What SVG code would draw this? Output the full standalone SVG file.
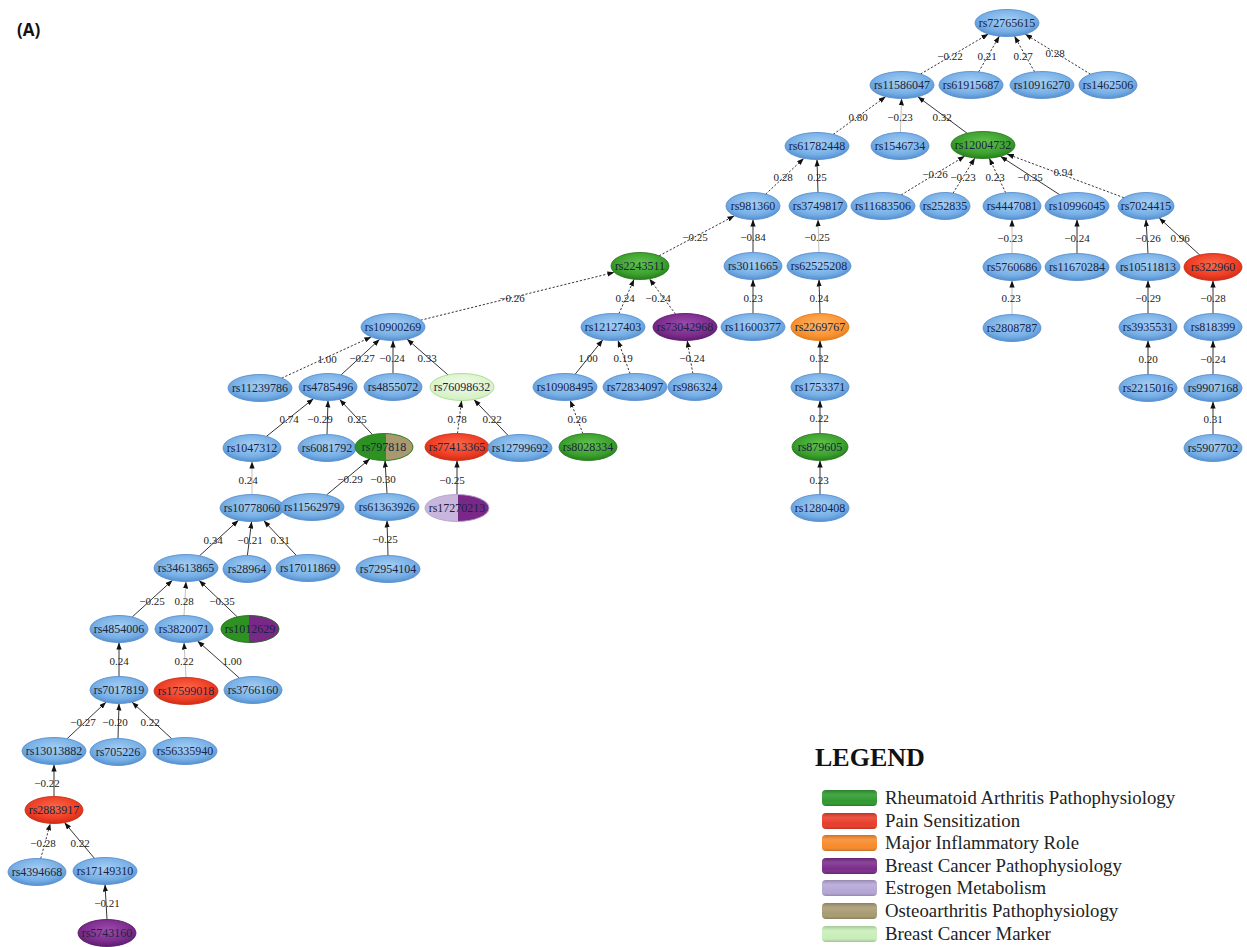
<svg xmlns="http://www.w3.org/2000/svg" width="1247" height="947" viewBox="0 0 1247 947">
<style>
.bg{fill:#fff}
.e{fill:none;stroke:#1e1e1e;stroke-width:0.9;marker-end:url(#ah)}
.d{stroke-dasharray:2.2 1.8}
.l{stroke:#b8b8b8}
.lb{font-family:"Liberation Serif",serif;font-size:11px;fill:#222;text-anchor:middle}
.n ellipse{stroke-width:0.9}
.n text{font-family:"Liberation Serif",serif;font-size:12px;fill:#1a2440;text-anchor:middle}
.bl{fill:url(#gb);stroke:#5a8fcf}
.gr{fill:url(#gg);stroke:#2a7a1e}
.rd{fill:url(#gr);stroke:#c83018}
.or{fill:url(#go);stroke:#e07a18}
.pu{fill:url(#gp);stroke:#5c1a6c}
.lg{fill:url(#glg);stroke:#a8d890}
.ol{fill:none}
.leg{font-family:"Liberation Serif",serif;font-size:18.8px;fill:#222}
</style>
<defs>
<marker id="ah" viewBox="0 0 8 6" refX="8" refY="3" markerWidth="7" markerHeight="5.5" markerUnits="userSpaceOnUse" orient="auto"><path d="M0,0 L8,3 L0,6 z" fill="#111"/></marker>
<radialGradient id="gb" cx="50%" cy="40%" r="60%"><stop offset="0" stop-color="#a6cff4"/><stop offset="0.7" stop-color="#76afe6"/><stop offset="1" stop-color="#5590d0"/></radialGradient>
<radialGradient id="gg" cx="50%" cy="40%" r="60%"><stop offset="0" stop-color="#62c24c"/><stop offset="0.7" stop-color="#3ca02e"/><stop offset="1" stop-color="#25801a"/></radialGradient>
<radialGradient id="gr" cx="50%" cy="40%" r="60%"><stop offset="0" stop-color="#fa6a4c"/><stop offset="0.7" stop-color="#ee3d24"/><stop offset="1" stop-color="#d02c16"/></radialGradient>
<radialGradient id="go" cx="50%" cy="40%" r="60%"><stop offset="0" stop-color="#ffb468"/><stop offset="0.7" stop-color="#fa9434"/><stop offset="1" stop-color="#e67e1c"/></radialGradient>
<radialGradient id="gp" cx="50%" cy="40%" r="60%"><stop offset="0" stop-color="#9c4cac"/><stop offset="0.7" stop-color="#7c2c8c"/><stop offset="1" stop-color="#601c70"/></radialGradient>
<radialGradient id="glg" cx="50%" cy="40%" r="60%"><stop offset="0" stop-color="#f2fcea"/><stop offset="1" stop-color="#d2f0c0"/></radialGradient>
<linearGradient id="sw" x1="0" y1="0" x2="0" y2="1"><stop offset="0" stop-color="#000" stop-opacity="0.18"/><stop offset="0.3" stop-color="#fff" stop-opacity="0.12"/><stop offset="0.7" stop-color="#fff" stop-opacity="0"/><stop offset="1" stop-color="#000" stop-opacity="0.2"/></linearGradient>
<clipPath id="c1"><rect x="386" y="430" width="40" height="40"/></clipPath>
<clipPath id="c2"><rect x="458" y="490" width="40" height="40"/></clipPath>
<clipPath id="c3"><rect x="249" y="610" width="40" height="40"/></clipPath>
</defs>
<rect class="bg" x="0" y="0" width="1247" height="947"/>
<text x="17" y="36" font-family="'Open Sans',sans-serif" font-weight="bold" font-size="17" fill="#111">(A)</text>

<g id="connectors">
<path class="e d" d="M920.6,74 L988.4,34"/>
<path class="e d" d="M978.6,71.9 L999.4,36.1"/>
<path class="e d" d="M1034.6,71.9 L1014.4,36.1"/>
<path class="e d" d="M1090.5,74.2 L1025.1,34.1"/>
<path class="e d" d="M833.2,134.4 L885.8,96.6"/>
<path class="e l" d="M900.4,132.5 L901.6,98.5"/>
<path class="e" d="M967.2,133.3 L917.8,96.7"/>
<path class="e d" d="M901.2,194.9 L964.8,156.1"/>
<path class="e d" d="M953,193.2 L974.9,158.1"/>
<path class="e d" d="M1005.7,192.8 L989.3,158.2"/>
<path class="e" d="M1059.6,194.7 L1000.4,156.3"/>
<path class="e d" d="M1123.9,197.7 L1006.9,154"/>
<path class="e d" d="M765.7,194.1 L803.9,158.3"/>
<path class="e" d="M818,192.5 L817,159.5"/>
<path class="e d" d="M659.1,255.8 L734.5,215.8"/>
<path class="e" d="M753,252.5 L753,219.5"/>
<path class="e l" d="M819,252.5 L818,219.5"/>
<path class="e l" d="M1012,253.5 L1012,219.5"/>
<path class="e" d="M1077,253.5 L1077,219.5"/>
<path class="e" d="M1148,253.5 L1146,219.5"/>
<path class="e" d="M1199.9,255.1 L1159.1,217.9"/>
<path class="e l" d="M1012,314.5 L1012,280.5"/>
<path class="e" d="M1148,313.5 L1148,280.5"/>
<path class="e" d="M1213,313.5 L1213,280.5"/>
<path class="e" d="M1148,374.5 L1148,340.5"/>
<path class="e" d="M1213,374.5 L1213,340.5"/>
<path class="e" d="M1213,434.5 L1213,401.5"/>
<path class="e d" d="M420.6,320.2 L614.4,272.3"/>
<path class="e d" d="M618.9,313.7 L634.1,279.2"/>
<path class="e d" d="M675.5,314.1 L649.4,278.8"/>
<path class="e" d="M753,313.5 L753,279.5"/>
<path class="e" d="M820,313.5 L819,279.5"/>
<path class="e d" d="M281.7,378.1 L371.3,336.9"/>
<path class="e" d="M341.1,374.9 L379.7,339.3"/>
<path class="e" d="M393,373.5 L393,340.5"/>
<path class="e" d="M448,374.9 L407,339.1"/>
<path class="e" d="M575.2,374.2 L602.8,339.8"/>
<path class="e d" d="M630.1,373.7 L617.9,340.3"/>
<path class="e d" d="M692.8,373.5 L687.2,340.5"/>
<path class="e" d="M820,373.5 L820,340.5"/>
<path class="e" d="M266.5,436.3 L313.5,398.7"/>
<path class="e" d="M327,434.5 L328,400.5"/>
<path class="e" d="M372.4,434.6 L339.6,399.4"/>
<path class="e d" d="M457.5,433.5 L461.5,400.5"/>
<path class="e" d="M508.1,435.5 L473.9,399.5"/>
<path class="e d" d="M582.9,433.7 L570.1,400.3"/>
<path class="e" d="M820,433.5 L820,400.5"/>
<path class="e l" d="M252,494.5 L252,461.5"/>
<path class="e" d="M326.5,495 L369.9,458.8"/>
<path class="e" d="M387,493.5 L385,460.5"/>
<path class="e" d="M457,494.5 L457,460.5"/>
<path class="e" d="M820,494.5 L820,460.5"/>
<path class="e" d="M199.5,555.8 L238.5,520.2"/>
<path class="e" d="M247.4,555.5 L251.6,521.5"/>
<path class="e" d="M296.3,555.4 L263.7,520.6"/>
<path class="e" d="M388,555.5 L387,520.5"/>
<path class="e" d="M132.2,617 L172.5,580.2"/>
<path class="e l" d="M184,615.5 L186,581.5"/>
<path class="e" d="M237.3,616.9 L199,580.3"/>
<path class="e" d="M119,676.5 L119,642.5"/>
<path class="e l" d="M186,677.5 L184,642.5"/>
<path class="e" d="M239.5,678.1 L197.5,640.9"/>
<path class="e" d="M67.1,738.7 L106.1,702.1"/>
<path class="e" d="M118,738.5 L119,703.5"/>
<path class="e" d="M171.7,738.7 L132,702.1"/>
<path class="e" d="M54,796.5 L54,764.5"/>
<path class="e d" d="M40.7,858.6 L50.3,823.4"/>
<path class="e" d="M94.4,858.3 L64.5,822.6"/>
<path class="e" d="M107,919.5 L105,884.5"/>
<g id="edge-labels">
<text class="lb" x="950" y="59.5">−0.22</text>
<text class="lb" x="987" y="59.5">0.21</text>
<text class="lb" x="1023" y="59.5">0.27</text>
<text class="lb" x="1055" y="56.5">0.28</text>
<text class="lb" x="858" y="120.5">0.80</text>
<text class="lb" x="900" y="120.5">−0.23</text>
<text class="lb" x="942" y="120.5">0.32</text>
<text class="lb" x="935" y="177.5">−0.26</text>
<text class="lb" x="963" y="180.5">−0.23</text>
<text class="lb" x="995" y="180.5">0.23</text>
<text class="lb" x="1030" y="180.5">−0.35</text>
<text class="lb" x="1063" y="175.5">0.94</text>
<text class="lb" x="783" y="180.5">0.28</text>
<text class="lb" x="817" y="180.5">0.25</text>
<text class="lb" x="695" y="240.5">−0.25</text>
<text class="lb" x="753" y="240.5">−0.84</text>
<text class="lb" x="817" y="240.5">−0.25</text>
<text class="lb" x="1010" y="241.5">−0.23</text>
<text class="lb" x="1077" y="241.5">−0.24</text>
<text class="lb" x="1148" y="241.5">−0.26</text>
<text class="lb" x="1180" y="241.5">0.96</text>
<text class="lb" x="1011" y="301.5">0.23</text>
<text class="lb" x="1148" y="301.5">−0.29</text>
<text class="lb" x="1213" y="301.5">−0.28</text>
<text class="lb" x="1148" y="362.5">0.20</text>
<text class="lb" x="1213" y="362.5">−0.24</text>
<text class="lb" x="1213" y="422.5">0.31</text>
<text class="lb" x="512" y="301.5">−0.26</text>
<text class="lb" x="625" y="301.5">0.24</text>
<text class="lb" x="658" y="301.5">−0.24</text>
<text class="lb" x="753" y="301.5">0.23</text>
<text class="lb" x="819" y="301.5">0.24</text>
<text class="lb" x="327" y="362.5">1.00</text>
<text class="lb" x="362" y="361.5">−0.27</text>
<text class="lb" x="392" y="361.5">−0.24</text>
<text class="lb" x="427" y="361.5">0.33</text>
<text class="lb" x="588" y="361.5">1.00</text>
<text class="lb" x="623" y="361.5">0.19</text>
<text class="lb" x="692" y="361.5">−0.24</text>
<text class="lb" x="819" y="361.5">0.32</text>
<text class="lb" x="289" y="422.5">0.74</text>
<text class="lb" x="320" y="422.5">−0.29</text>
<text class="lb" x="357" y="422.5">0.25</text>
<text class="lb" x="457" y="422.5">0.78</text>
<text class="lb" x="492" y="422.5">0.22</text>
<text class="lb" x="577" y="422.5">0.26</text>
<text class="lb" x="819" y="421.5">0.22</text>
<text class="lb" x="248" y="483.5">0.24</text>
<text class="lb" x="350" y="482.5">−0.29</text>
<text class="lb" x="383" y="482.5">−0.30</text>
<text class="lb" x="452" y="483.5">−0.25</text>
<text class="lb" x="819" y="483.5">0.23</text>
<text class="lb" x="213" y="543.5">0.34</text>
<text class="lb" x="250" y="543.5">−0.21</text>
<text class="lb" x="280" y="543.5">0.31</text>
<text class="lb" x="385" y="542.5">−0.25</text>
<text class="lb" x="152" y="604.5">−0.25</text>
<text class="lb" x="184" y="604.5">0.28</text>
<text class="lb" x="222" y="604.5">−0.35</text>
<text class="lb" x="119" y="664.5">0.24</text>
<text class="lb" x="184" y="664.5">0.22</text>
<text class="lb" x="232" y="664.5">1.00</text>
<text class="lb" x="83" y="725.5">−0.27</text>
<text class="lb" x="115" y="725.5">−0.20</text>
<text class="lb" x="150" y="725.5">0.22</text>
<text class="lb" x="47" y="786.5">−0.22</text>
<text class="lb" x="43" y="846.5">−0.28</text>
<text class="lb" x="80" y="846.5">0.22</text>
<text class="lb" x="107" y="906.5">−0.21</text>
</g>
</g>

<g id="rs72765615" class="n"><ellipse class="bl" cx="1007" cy="23" rx="32" ry="13.5"/><text x="1007" y="27">rs72765615</text></g>
<g id="rs11586047" class="n"><ellipse class="bl" cx="902" cy="85" rx="32" ry="13.5"/><text x="902" y="89">rs11586047</text></g>
<g id="rs61915687" class="n"><ellipse class="bl" cx="971" cy="85" rx="32" ry="13.5"/><text x="971" y="89">rs61915687</text></g>
<g id="rs10916270" class="n"><ellipse class="bl" cx="1042" cy="85" rx="32" ry="13.5"/><text x="1042" y="89">rs10916270</text></g>
<g id="rs1462506" class="n"><ellipse class="bl" cx="1108" cy="85" rx="29" ry="13.5"/><text x="1108" y="89">rs1462506</text></g>
<g id="rs61782448" class="n"><ellipse class="bl" cx="817" cy="146" rx="32" ry="13.5"/><text x="817" y="150">rs61782448</text></g>
<g id="rs1546734" class="n"><ellipse class="bl" cx="900" cy="146" rx="29" ry="13.5"/><text x="900" y="150">rs1546734</text></g>
<g id="rs12004732" class="n"><ellipse class="gr" cx="983" cy="145" rx="32" ry="13.5"/><text x="983" y="149">rs12004732</text></g>
<g id="rs981360" class="n"><ellipse class="bl" cx="753" cy="206" rx="27" ry="13.5"/><text x="753" y="210">rs981360</text></g>
<g id="rs3749817" class="n"><ellipse class="bl" cx="818" cy="206" rx="29" ry="13.5"/><text x="818" y="210">rs3749817</text></g>
<g id="rs11683506" class="n"><ellipse class="bl" cx="883" cy="206" rx="32" ry="13.5"/><text x="883" y="210">rs11683506</text></g>
<g id="rs252835" class="n"><ellipse class="bl" cx="945" cy="206" rx="25" ry="13.5"/><text x="945" y="210">rs252835</text></g>
<g id="rs4447081" class="n"><ellipse class="bl" cx="1012" cy="206" rx="29" ry="13.5"/><text x="1012" y="210">rs4447081</text></g>
<g id="rs10996045" class="n"><ellipse class="bl" cx="1077" cy="206" rx="32" ry="13.5"/><text x="1077" y="210">rs10996045</text></g>
<g id="rs7024415" class="n"><ellipse class="bl" cx="1146" cy="206" rx="28" ry="13.5"/><text x="1146" y="210">rs7024415</text></g>
<g id="rs2243511" class="n"><ellipse class="gr" cx="640" cy="266" rx="29" ry="13.5"/><text x="640" y="270">rs2243511</text></g>
<g id="rs3011665" class="n"><ellipse class="bl" cx="753" cy="266" rx="29" ry="13.5"/><text x="753" y="270">rs3011665</text></g>
<g id="rs62525208" class="n"><ellipse class="bl" cx="819" cy="266" rx="32" ry="13.5"/><text x="819" y="270">rs62525208</text></g>
<g id="rs5760686" class="n"><ellipse class="bl" cx="1012" cy="267" rx="29" ry="13.5"/><text x="1012" y="271">rs5760686</text></g>
<g id="rs11670284" class="n"><ellipse class="bl" cx="1077" cy="267" rx="32" ry="13.5"/><text x="1077" y="271">rs11670284</text></g>
<g id="rs10511813" class="n"><ellipse class="bl" cx="1148" cy="267" rx="32" ry="13.5"/><text x="1148" y="271">rs10511813</text></g>
<g id="rs322960" class="n"><ellipse class="rd" cx="1213" cy="267" rx="29" ry="13.5"/><text x="1213" y="271">rs322960</text></g>
<g id="rs2808787" class="n"><ellipse class="bl" cx="1012" cy="328" rx="29" ry="13.5"/><text x="1012" y="332">rs2808787</text></g>
<g id="rs3935531" class="n"><ellipse class="bl" cx="1148" cy="327" rx="29" ry="13.5"/><text x="1148" y="331">rs3935531</text></g>
<g id="rs818399" class="n"><ellipse class="bl" cx="1213" cy="327" rx="29" ry="13.5"/><text x="1213" y="331">rs818399</text></g>
<g id="rs10900269" class="n"><ellipse class="bl" cx="393" cy="327" rx="32" ry="13.5"/><text x="393" y="331">rs10900269</text></g>
<g id="rs12127403" class="n"><ellipse class="bl" cx="613" cy="327" rx="32" ry="13.5"/><text x="613" y="331">rs12127403</text></g>
<g id="rs73042968" class="n"><ellipse class="pu" cx="685" cy="327" rx="32" ry="13.5"/><text x="685" y="331">rs73042968</text></g>
<g id="rs11600377" class="n"><ellipse class="bl" cx="753" cy="327" rx="32" ry="13.5"/><text x="753" y="331">rs11600377</text></g>
<g id="rs2269767" class="n"><ellipse class="or" cx="820" cy="327" rx="29" ry="13.5"/><text x="820" y="331">rs2269767</text></g>
<g id="rs2215016" class="n"><ellipse class="bl" cx="1148" cy="388" rx="29" ry="13.5"/><text x="1148" y="392">rs2215016</text></g>
<g id="rs9907168" class="n"><ellipse class="bl" cx="1213" cy="388" rx="29" ry="13.5"/><text x="1213" y="392">rs9907168</text></g>
<g id="rs11239786" class="n"><ellipse class="bl" cx="260" cy="388" rx="32" ry="13.5"/><text x="260" y="392">rs11239786</text></g>
<g id="rs4785496" class="n"><ellipse class="bl" cx="328" cy="387" rx="29" ry="13.5"/><text x="328" y="391">rs4785496</text></g>
<g id="rs4855072" class="n"><ellipse class="bl" cx="393" cy="387" rx="29" ry="13.5"/><text x="393" y="391">rs4855072</text></g>
<g id="rs76098632" class="n"><ellipse class="lg" cx="462" cy="387" rx="32" ry="13.5"/><text x="462" y="391">rs76098632</text></g>
<g id="rs10908495" class="n"><ellipse class="bl" cx="565" cy="387" rx="32" ry="13.5"/><text x="565" y="391">rs10908495</text></g>
<g id="rs72834097" class="n"><ellipse class="bl" cx="635" cy="387" rx="32" ry="13.5"/><text x="635" y="391">rs72834097</text></g>
<g id="rs986324" class="n"><ellipse class="bl" cx="695" cy="387" rx="27" ry="13.5"/><text x="695" y="391">rs986324</text></g>
<g id="rs1753371" class="n"><ellipse class="bl" cx="820" cy="387" rx="29" ry="13.5"/><text x="820" y="391">rs1753371</text></g>
<g id="rs5907702" class="n"><ellipse class="bl" cx="1213" cy="448" rx="29" ry="13.5"/><text x="1213" y="452">rs5907702</text></g>
<g id="rs1047312" class="n"><ellipse class="bl" cx="252" cy="448" rx="29" ry="13.5"/><text x="252" y="452">rs1047312</text></g>
<g id="rs6081792" class="n"><ellipse class="bl" cx="327" cy="448" rx="29" ry="13.5"/><text x="327" y="452">rs6081792</text></g>
<g id="rs797818" class="n"><ellipse cx="384" cy="447" rx="29" ry="13.5" fill="#2e9222"/><ellipse cx="384" cy="447" rx="29" ry="13.5" fill="#a89a6e" clip-path="url(#c1)"/><ellipse class="ol" cx="384" cy="447" rx="29" ry="13.5" stroke="#2a7a1e"/><text x="384" y="451">rs797818</text></g>
<g id="rs77413365" class="n"><ellipse class="rd" cx="457" cy="447" rx="32" ry="13.5"/><text x="457" y="451">rs77413365</text></g>
<g id="rs12799692" class="n"><ellipse class="bl" cx="520" cy="448" rx="32" ry="13.5"/><text x="520" y="452">rs12799692</text></g>
<g id="rs8028334" class="n"><ellipse class="gr" cx="588" cy="447" rx="29" ry="13.5"/><text x="588" y="451">rs8028334</text></g>
<g id="rs879605" class="n"><ellipse class="gr" cx="820" cy="447" rx="28" ry="13.5"/><text x="820" y="451">rs879605</text></g>
<g id="rs10778060" class="n"><ellipse class="bl" cx="252" cy="508" rx="32" ry="13.5"/><text x="252" y="512">rs10778060</text></g>
<g id="rs11562979" class="n"><ellipse class="bl" cx="312" cy="507" rx="32" ry="13.5"/><text x="312" y="511">rs11562979</text></g>
<g id="rs61363926" class="n"><ellipse class="bl" cx="387" cy="507" rx="32" ry="13.5"/><text x="387" y="511">rs61363926</text></g>
<g id="rs17270213" class="n"><ellipse cx="457" cy="508" rx="32" ry="13.5" fill="#c9b6dc"/><ellipse cx="457" cy="508" rx="32" ry="13.5" fill="#7a2888" clip-path="url(#c2)"/><ellipse class="ol" cx="457" cy="508" rx="32" ry="13.5" stroke="#b8a2cc"/><text x="457" y="512">rs17270213</text></g>
<g id="rs1280408" class="n"><ellipse class="bl" cx="820" cy="508" rx="29" ry="13.5"/><text x="820" y="512">rs1280408</text></g>
<g id="rs34613865" class="n"><ellipse class="bl" cx="186" cy="568" rx="32" ry="13.5"/><text x="186" y="572">rs34613865</text></g>
<g id="rs28964" class="n"><ellipse class="bl" cx="247" cy="569" rx="24" ry="13.5"/><text x="247" y="573">rs28964</text></g>
<g id="rs17011869" class="n"><ellipse class="bl" cx="308" cy="568" rx="32" ry="13.5"/><text x="308" y="572">rs17011869</text></g>
<g id="rs72954104" class="n"><ellipse class="bl" cx="388" cy="569" rx="32" ry="13.5"/><text x="388" y="573">rs72954104</text></g>
<g id="rs4854006" class="n"><ellipse class="bl" cx="119" cy="629" rx="29" ry="13.5"/><text x="119" y="633">rs4854006</text></g>
<g id="rs3820071" class="n"><ellipse class="bl" cx="184" cy="629" rx="29" ry="13.5"/><text x="184" y="633">rs3820071</text></g>
<g id="rs1012629" class="n"><ellipse cx="250" cy="629" rx="29" ry="13.5" fill="#2e9222"/><ellipse cx="250" cy="629" rx="29" ry="13.5" fill="#7a2888" clip-path="url(#c3)"/><ellipse class="ol" cx="250" cy="629" rx="29" ry="13.5" stroke="#2a6a22"/><text x="250" y="633">rs1012629</text></g>
<g id="rs7017819" class="n"><ellipse class="bl" cx="119" cy="690" rx="29" ry="13.5"/><text x="119" y="694">rs7017819</text></g>
<g id="rs17599018" class="n"><ellipse class="rd" cx="186" cy="691" rx="32" ry="13.5"/><text x="186" y="695">rs17599018</text></g>
<g id="rs3766160" class="n"><ellipse class="bl" cx="253" cy="690" rx="29" ry="13.5"/><text x="253" y="694">rs3766160</text></g>
<g id="rs13013882" class="n"><ellipse class="bl" cx="54" cy="751" rx="32" ry="13.5"/><text x="54" y="755">rs13013882</text></g>
<g id="rs705226" class="n"><ellipse class="bl" cx="118" cy="752" rx="28" ry="13.5"/><text x="118" y="756">rs705226</text></g>
<g id="rs56335940" class="n"><ellipse class="bl" cx="185" cy="751" rx="32" ry="13.5"/><text x="185" y="755">rs56335940</text></g>
<g id="rs2883917" class="n"><ellipse class="rd" cx="54" cy="810" rx="29" ry="13.5"/><text x="54" y="814">rs2883917</text></g>
<g id="rs4394668" class="n"><ellipse class="bl" cx="37" cy="872" rx="29" ry="13.5"/><text x="37" y="876">rs4394668</text></g>
<g id="rs17149310" class="n"><ellipse class="bl" cx="105" cy="871" rx="32" ry="13.5"/><text x="105" y="875">rs17149310</text></g>
<g id="rs5743160" class="n"><ellipse class="pu" cx="107" cy="933" rx="29" ry="13.5"/><text x="107" y="937">rs5743160</text></g>

<g id="legend">
<text x="815" y="766" font-family="'Liberation Serif',serif" font-weight="bold" font-size="26" fill="#111">LEGEND</text>
<rect x="822" y="790" width="55" height="16" rx="4" fill="#2f9a2f"/><rect x="822" y="790" width="55" height="16" rx="4" fill="url(#sw)"/>
<rect x="822" y="813" width="55" height="16" rx="4" fill="#e93c2a"/><rect x="822" y="813" width="55" height="16" rx="4" fill="url(#sw)"/>
<rect x="822" y="835" width="55" height="16" rx="4" fill="#f78a2c"/><rect x="822" y="835" width="55" height="16" rx="4" fill="url(#sw)"/>
<rect x="822" y="858" width="55" height="16" rx="4" fill="#7a2c8a"/><rect x="822" y="858" width="55" height="16" rx="4" fill="url(#sw)"/>
<rect x="822" y="880" width="55" height="16" rx="4" fill="#b5a6d6"/><rect x="822" y="880" width="55" height="16" rx="4" fill="url(#sw)"/>
<rect x="822" y="903" width="55" height="16" rx="4" fill="#a89b72"/><rect x="822" y="903" width="55" height="16" rx="4" fill="url(#sw)"/>
<rect x="822" y="926" width="55" height="16" rx="4" fill="#c8efb8"/><rect x="822" y="926" width="55" height="16" rx="4" fill="url(#sw)"/>
<text class="leg" x="885" y="804">Rheumatoid Arthritis Pathophysiology</text>
<text class="leg" x="885" y="827">Pain Sensitization</text>
<text class="leg" x="885" y="849">Major Inflammatory Role</text>
<text class="leg" x="885" y="872">Breast Cancer Pathophysiology</text>
<text class="leg" x="885" y="894">Estrogen Metabolism</text>
<text class="leg" x="885" y="917">Osteoarthritis Pathophysiology</text>
<text class="leg" x="885" y="940">Breast Cancer Marker</text>
</g>
</svg>
